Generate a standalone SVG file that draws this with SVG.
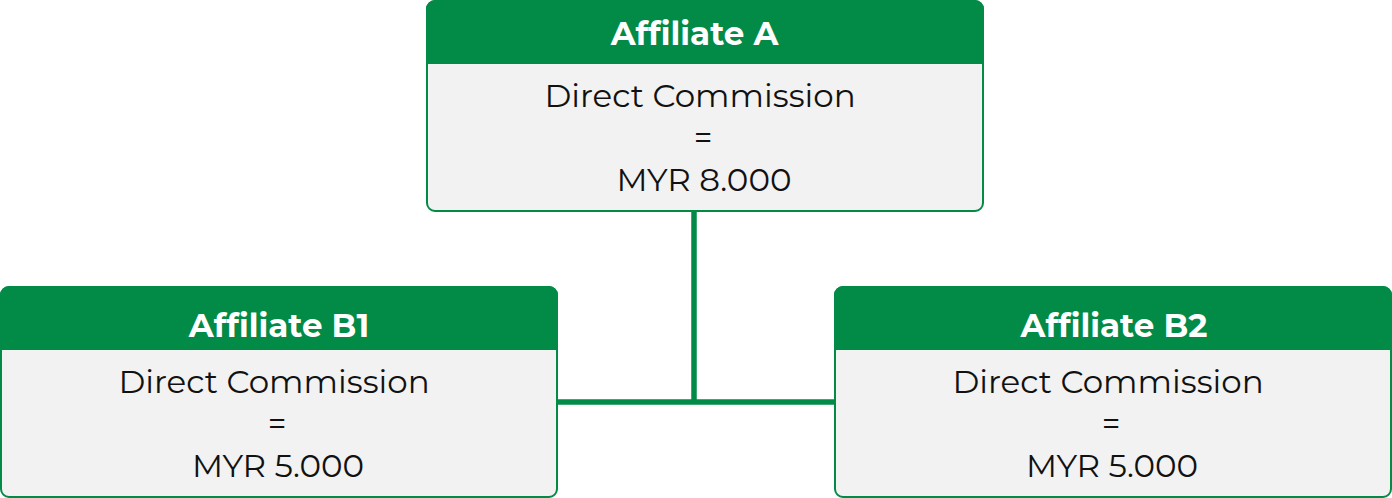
<svg xmlns="http://www.w3.org/2000/svg" width="1392" height="498" viewBox="0 0 1392 498">
<style>
.body{fill:#F2F2F2;stroke:#028A47;stroke-width:2}
.head{fill:#028A47}
.title{font-family:"Montserrat","Noto Sans","Open Sans",sans-serif;font-weight:bold;font-size:32.5px;fill:#fff;text-anchor:middle}
.txt{font-family:"Montserrat","Noto Sans","Open Sans",sans-serif;font-size:32.5px;fill:#111;text-anchor:middle}
.conn{stroke:#028A47;stroke-width:5.5;fill:none}
</style>
<rect width="1392" height="498" fill="#fff"/>
<g id="connectors">
<line class="conn" x1="694" y1="211" x2="694" y2="402"/>
<line class="conn" x1="557" y1="402" x2="835" y2="402"/>
</g>
<g id="affiliate-a">
<rect class="body" x="427" y="1" width="556" height="210" rx="8"/>
<path class="head" d="M426,64 V9 A9,9 0 0 1 435,0 H975 A9,9 0 0 1 984,9 V64 Z"/>
<text class="title" x="694.5" y="45">Affiliate A</text>
<text class="txt" x="700" y="107">Direct Commission</text>
<text class="txt" x="703" y="149">=</text>
<text class="txt" x="704" y="191">MYR 8.000</text>
</g>
<g id="affiliate-b1">
<rect class="body" x="1" y="287" width="556" height="210" rx="8"/>
<path class="head" d="M0,350 V295 A9,9 0 0 1 9,286 H549 A9,9 0 0 1 558,295 V350 Z"/>
<text class="title" x="279" y="337">Affiliate B1</text>
<text class="txt" x="274" y="393">Direct Commission</text>
<text class="txt" x="277" y="435">=</text>
<text class="txt" x="278" y="477">MYR 5.000</text>
</g>
<g id="affiliate-b2">
<rect class="body" x="835" y="287" width="556" height="210" rx="8"/>
<path class="head" d="M834,350 V295 A9,9 0 0 1 843,286 H1383 A9,9 0 0 1 1392,295 V350 Z"/>
<text class="title" x="1114" y="337">Affiliate B2</text>
<text class="txt" x="1108" y="393">Direct Commission</text>
<text class="txt" x="1111" y="435">=</text>
<text class="txt" x="1112" y="477">MYR 5.000</text>
</g>
</svg>
